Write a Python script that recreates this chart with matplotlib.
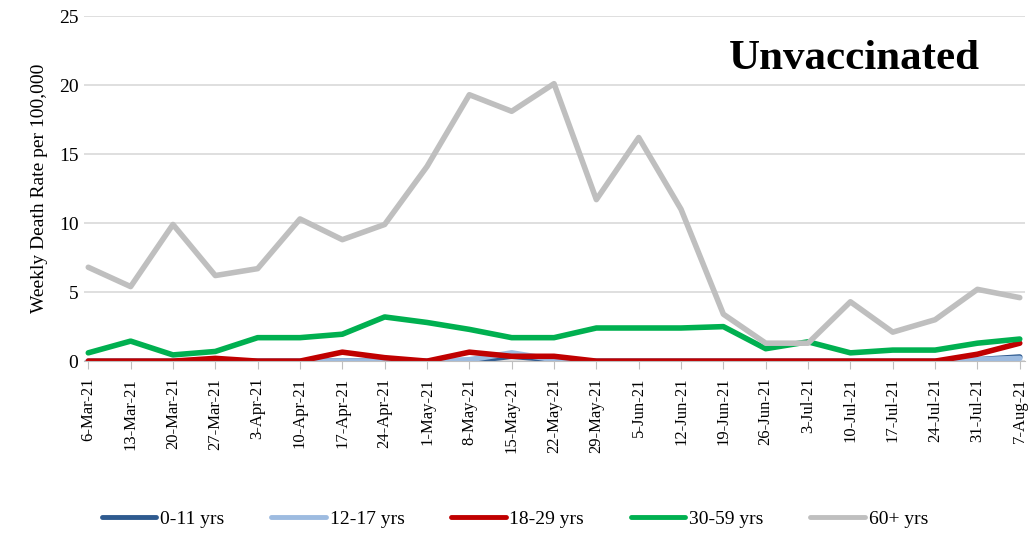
import matplotlib.pyplot as plt

plt.rcParams['font.family'] = ['Liberation Serif', 'DejaVu Serif']

weeks = ['6-Mar-21', '13-Mar-21', '20-Mar-21', '27-Mar-21', '3-Apr-21', '10-Apr-21',
         '17-Apr-21', '24-Apr-21', '1-May-21', '8-May-21', '15-May-21', '22-May-21',
         '29-May-21', '5-Jun-21', '12-Jun-21', '19-Jun-21', '26-Jun-21', '3-Jul-21',
         '10-Jul-21', '17-Jul-21', '24-Jul-21', '31-Jul-21', '7-Aug-21']

age_0_11 = [0, 0, 0, 0, 0, 0, 0, 0, 0, 0, 0.35, 0.1, 0, 0, 0, 0, 0, 0, 0, 0, 0, 0.1, 0.3]
age_12_17 = [0, 0, 0, 0, 0, 0, 0, 0, 0, 0.1, 0.6, 0.1, 0, 0, 0, 0, 0, 0, 0, 0, 0, 0.1, 0.2]
age_18_29 = [0, 0, 0, 0.2, 0, 0, 0.65, 0.25, 0, 0.65, 0.35, 0.35, 0, 0, 0, 0, 0, 0, 0, 0, 0, 0.5, 1.3]
age_30_59 = [0.6, 1.45, 0.45, 0.7, 1.7, 1.7, 1.95, 3.2, 2.8, 2.3, 1.7, 1.7, 2.4, 2.4,
             2.4, 2.5, 0.9, 1.4, 0.6, 0.8, 0.8, 1.3, 1.6]
age_60_plus = [6.8, 5.4, 9.9, 6.2, 6.7, 10.3, 8.8, 9.9, 14.1, 19.3, 18.1, 20.1, 11.7, 16.2,
               11.0, 3.4, 1.3, 1.3, 4.3, 2.1, 3.0, 5.2, 4.6]

series = [('0-11 yrs', age_0_11, '#2e5a8f'),
          ('12-17 yrs', age_12_17, '#9dbbe0'),
          ('18-29 yrs', age_18_29, '#c00000'),
          ('30-59 yrs', age_30_59, '#00b050'),
          ('60+ yrs', age_60_plus, '#bfbfbf')]

fig = plt.figure(figsize=(10.3, 5.35), dpi=100)
ax = fig.add_axes([0.0816, 0.325, 0.9134, 0.645])

x = list(range(len(weeks)))
for name, vals, color in series:
    ax.plot(x, vals, color=color, lw=4, label=name, solid_capstyle='round')

ax.set_xlim(-0.1, 22.12)
ax.set_ylim(0, 25)
ax.set_yticks([0, 5, 10, 15, 20, 25])
ax.set_xticks(x)
ax.set_xticklabels(weeks, rotation=90, fontsize=12)
ax.tick_params(axis='y', length=0, labelsize=14, pad=4)
ax.tick_params(axis='x', length=6, color='#bfbfbf', pad=6)
ax.grid(axis='y', color='#d9d9d9', lw=1.2)
ax.set_axisbelow(True)
for s in ['top', 'right', 'left']:
    ax.spines[s].set_visible(False)
ax.spines['bottom'].set_color('#bfbfbf')

ax.set_ylabel('Weekly Death Rate per 100,000', fontsize=14, labelpad=8)
ax.text(0.952, 0.876, 'Unvaccinated', transform=ax.transAxes, ha='right', va='center',
        fontsize=31, fontweight='bold')

leg = fig.legend(loc='center', bbox_to_anchor=(0.5, 0.03), ncol=5,
                 frameon=False, fontsize=14, handlelength=2.8, handletextpad=0.2,
                 columnspacing=2.4)
for h in leg.get_lines():
    h.set_linewidth(3.5)

plt.savefig('out.png')
